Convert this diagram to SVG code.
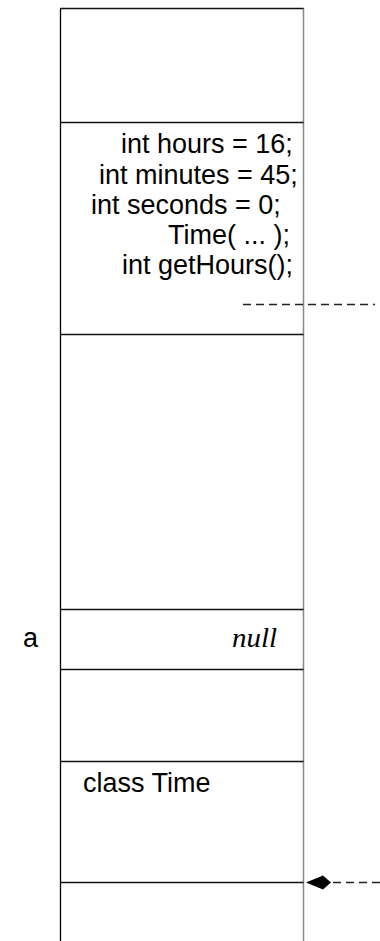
<svg xmlns="http://www.w3.org/2000/svg" width="380" height="941" viewBox="0 0 380 941">
<style>
.sans{font-family:"Liberation Sans",Arial,sans-serif;font-size:27px;fill:#000}
.ser{font-family:"Liberation Serif","Times New Roman",serif;font-size:27px;font-style:italic;fill:#000}
.h{stroke:#111;stroke-width:1.3;fill:none}
.dash{stroke:#222;stroke-width:1.5;stroke-dasharray:8 5;fill:none}
</style>
<rect width="380" height="941" fill="#fff"/>
<g id="column">
<line x1="60.5" y1="8" x2="60.5" y2="941" stroke="#000" stroke-width="1.3"/>
<line x1="303.5" y1="8" x2="303.5" y2="941" stroke="#888" stroke-width="1.5"/>
<line class="h" x1="60.5" y1="8.5" x2="303.5" y2="8.5"/>
</g>
<g id="object">
<line class="h" x1="60.5" y1="122.5" x2="303.5" y2="122.5"/>
<line class="h" x1="60.5" y1="334.5" x2="303.5" y2="334.5"/>
<text class="sans" x="121" y="153">int hours = 16;</text>
<text class="sans" x="99" y="184">int minutes = 45;</text>
<text class="sans" x="91" y="214">int seconds = 0;</text>
<text class="sans" x="168" y="244">Time( ... );</text>
<text class="sans" x="122" y="274">int getHours();</text>
</g>
<g id="var-a">
<line class="h" x1="60.5" y1="609.5" x2="303.5" y2="609.5"/>
<line class="h" x1="60.5" y1="669.5" x2="303.5" y2="669.5"/>
<text class="sans" x="23" y="647">a</text>
<text class="ser" x="232" y="647" textLength="45" lengthAdjust="spacingAndGlyphs">null</text>
</g>
<g id="class-time">
<line class="h" x1="60.5" y1="761.5" x2="303.5" y2="761.5"/>
<line class="h" x1="60.5" y1="882.5" x2="303.5" y2="882.5"/>
<text class="sans" x="83" y="792">class Time</text>
</g>
<g id="connectors">
<line class="dash" x1="243" y1="304.5" x2="375" y2="304.5"/>
<line class="dash" x1="380" y1="882.5" x2="331" y2="882.5"/>
<path d="M306,882.5 L323,875.5 L331,882.5 L323,889.5 Z" fill="#000"/>
</g>
</svg>
